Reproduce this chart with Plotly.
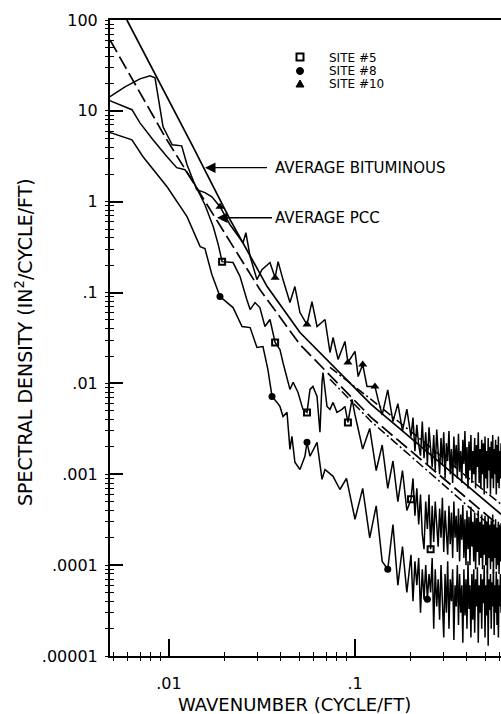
import math
import plotly.graph_objects as go

# ---------------- data ----------------
# average fitted lines
bit_k = [0.00594, 0.0133, 0.0213, 0.0337, 0.0506, 0.122, 0.610]
bit_v = [100, 4.23, 0.634, 0.1164, 0.0363, 0.00588, 0.000363]
pcc_k = [0.00482, 0.00952, 0.0205, 0.0308, 0.0506, 0.122, 0.610]
pcc_v = [60.2, 5.18, 0.412, 0.108, 0.0268, 0.00423, 0.000262]
dd1_k = [0.0734, 0.122, 0.610]
dd1_v = [0.0150, 0.00667, 0.000468]
dd2_k = [0.0734, 0.122, 0.610]
dd2_v = [0.0111, 0.00382, 0.000214]

# common high-wavenumber sampling of the three site spectra
k_hi = [0.205, 0.21, 0.215, 0.22, 0.225, 0.23, 0.235, 0.24, 0.245, 0.25,
        0.255, 0.26, 0.265, 0.27, 0.275, 0.28, 0.285, 0.29, 0.295, 0.30,
        0.305, 0.31, 0.315, 0.32, 0.325, 0.33, 0.335, 0.34, 0.345, 0.35,
        0.355, 0.36, 0.365, 0.37, 0.375, 0.38, 0.385, 0.39, 0.395, 0.40,
        0.405, 0.41, 0.415, 0.42, 0.425, 0.43, 0.435, 0.44, 0.445, 0.45,
        0.455, 0.46, 0.465, 0.47, 0.475, 0.48, 0.485, 0.49, 0.495, 0.50,
        0.505, 0.51, 0.515, 0.52, 0.525, 0.53, 0.535, 0.54, 0.545, 0.55,
        0.555, 0.56, 0.565, 0.57, 0.575, 0.58, 0.585, 0.59, 0.595, 0.60,
        0.605, 0.61]

# site 10 (triangles)
s10_k = [0.00470, 0.00580, 0.00698, 0.00791, 0.00841, 0.00929, 0.0104, 0.0117, 0.0125, 0.0141,
         0.0156, 0.0170, 0.0188, 0.0213, 0.0250, 0.0259, 0.0273, 0.0297, 0.0316, 0.0349,
         0.0372, 0.0386, 0.0410, 0.0447, 0.0475, 0.0506, 0.0552, 0.0587, 0.0625, 0.0690,
         0.0734, 0.0762, 0.0811, 0.0883, 0.0916, 0.100, 0.104, 0.110, 0.116, 0.128, 0.133,
         0.14, 0.15, 0.16, 0.17, 0.18, 0.19, 0.20]
s10_v = [13.9, 18.4, 22.5, 24.3, 23.1, 6.67, 4.23, 4.12, 2.55, 1.36,
         1.26, 1.13, 0.881, 0.558, 0.354, 0.456, 0.249, 0.139, 0.179, 0.214,
         0.146, 0.219, 0.139, 0.0776, 0.1164, 0.0602, 0.0445, 0.0796, 0.0423, 0.0505,
         0.0219, 0.0320, 0.0184, 0.0290, 0.0170, 0.0225, 0.0119, 0.0162, 0.00927, 0.00927, 0.00667,
         0.0045, 0.0085, 0.0038, 0.0060, 0.0030, 0.0052, 0.0026]
s10_hi = [0.0042, 0.0018, 0.0035, 0.0021, 0.0016, 0.0038, 0.0015, 0.0029, 0.0013, 0.0033,
          0.0019, 0.0012, 0.0027, 0.0011, 0.0031, 0.0016, 0.0010, 0.0025, 0.0013, 0.0029,
          0.0009, 0.0022, 0.0014, 0.0030, 0.0010, 0.0019, 0.0008, 0.0026, 0.0012, 0.0021,
          0.0009, 0.0028, 0.0011, 0.0018, 0.0008, 0.0024, 0.0013, 0.0030, 0.0009, 0.0020,
          0.0007, 0.0023, 0.0011, 0.0027, 0.0008, 0.0018, 0.0010, 0.0025, 0.0007, 0.0021,
          0.0012, 0.0029, 0.0008, 0.0019, 0.0007, 0.0024, 0.0010, 0.0022, 0.0006, 0.0026,
          0.0009, 0.0018, 0.0007, 0.0025, 0.0011, 0.0020, 0.0006, 0.0023, 0.0009, 0.0027,
          0.0007, 0.0019, 0.0010, 0.0024, 0.0006, 0.0021, 0.0008, 0.0026, 0.0007, 0.0018,
          0.0009, 0.0022]
s10_mk_k = [0.0188, 0.0372, 0.0552, 0.0916, 0.110, 0.128]
s10_mk_v = [0.881, 0.146, 0.0445, 0.0170, 0.0162, 0.00927]

# site 5 (squares)
s5_k = [0.00470, 0.00632, 0.00698, 0.00820, 0.00976, 0.0110, 0.0122, 0.0138, 0.0156, 0.0173,
        0.0184, 0.0193, 0.0221, 0.0241, 0.0262, 0.0273, 0.0290, 0.0308, 0.0328, 0.0349,
        0.0372, 0.0395, 0.0410, 0.0431, 0.0447, 0.0465, 0.0494, 0.0525, 0.0552, 0.0573,
        0.0594, 0.0625, 0.0648, 0.0665, 0.0673, 0.0707, 0.0734, 0.0762, 0.0800, 0.0851,
        0.0883, 0.0916, 0.0964,
        0.10, 0.11, 0.12, 0.13, 0.14, 0.15, 0.16, 0.17, 0.18, 0.19, 0.20]
s5_v = [13.2, 10.3, 7.38, 4.80, 3.13, 2.37, 2.25, 1.54, 0.927, 0.531,
        0.337, 0.219, 0.214, 0.150, 0.0838, 0.065, 0.0776, 0.0684, 0.0423, 0.0505,
        0.0283, 0.0236, 0.0170, 0.0119, 0.00859, 0.0103, 0.00796, 0.00518, 0.00480, 0.00859,
        0.00927, 0.00719, 0.00290, 0.0103, 0.0132, 0.00558, 0.00518, 0.00618, 0.00480, 0.00518,
        0.00558, 0.00372, 0.00667,
        0.0045, 0.0019, 0.0032, 0.0011, 0.0021, 0.0007, 0.0014, 0.0005, 0.0011, 0.0004, 0.00053]
s5_hi = [0.0009, 0.00035, 0.0007, 0.00028, 0.0006, 0.00022, 0.00015, 0.0005, 0.00025, 0.0006,
         0.00015, 0.00045, 0.00018, 0.0005, 0.00026, 0.00016, 0.00042, 0.0002, 0.00055, 0.00014,
         0.0004, 0.00022, 0.00013, 0.00045, 0.00017, 0.00038, 0.00012, 0.0005, 0.0002, 0.00035,
         0.00014, 0.00042, 0.00011, 0.00036, 0.00019, 0.00046, 0.00012, 0.00032, 0.0001, 0.0004,
         0.00015, 0.00034, 0.0001, 0.00044, 0.00016, 0.0003, 0.00011, 0.00038, 0.00009, 0.00033,
         0.00014, 0.0004, 0.0001, 0.0003, 0.00012, 0.00036, 0.00009, 0.00028, 0.00013, 0.00035,
         0.0001, 0.0003, 0.00008, 0.00034, 0.00012, 0.00027, 0.00009, 0.00031, 0.00011, 0.00036,
         0.00008, 0.00028, 0.00012, 0.00032, 0.00009, 0.00026, 0.0001, 0.0003, 0.00008, 0.00027,
         0.00011, 0.00029]
s5_mk_k = [0.0193, 0.0372, 0.0552, 0.0916, 0.20, 0.255]
s5_mk_v = [0.219, 0.0283, 0.00480, 0.00372, 0.00053, 0.00015]

# site 8 (circles)
s8_k = [0.00470, 0.00632, 0.00725, 0.00976, 0.0125, 0.0147, 0.0156, 0.0170, 0.0188, 0.0221,
        0.0247, 0.0273, 0.0297, 0.0320, 0.0340, 0.0358, 0.0381, 0.0395, 0.0410, 0.0431,
        0.0447, 0.0458, 0.0475, 0.0506, 0.0538, 0.0552, 0.0573, 0.0625, 0.0665, 0.0690,
        0.0762, 0.0830,
        0.09, 0.10, 0.11, 0.12, 0.13, 0.14, 0.15, 0.16, 0.17, 0.18, 0.19, 0.20]
s8_v = [5.87, 4.80, 3.13, 1.46, 0.684, 0.320, 0.305, 0.158, 0.0904, 0.0684,
        0.0423, 0.0412, 0.0249, 0.0255, 0.0143, 0.00719, 0.00618, 0.00558, 0.00433, 0.00480,
        0.00188, 0.00262, 0.00136, 0.00113, 0.00158, 0.00225, 0.00158, 0.00225, 0.00088, 0.00113,
        0.00095, 0.00068,
        0.0009, 0.00032, 0.0007, 0.00020, 0.00045, 0.00011, 0.00009, 0.00028, 0.00006, 0.00016, 0.00005, 0.00013]
s8_hi = [0.00004, 0.00011, 0.00006, 0.00012, 0.00003, 0.00009, 0.000042, 0.0001, 0.000042, 0.00008,
         0.00005, 0.00012, 0.00002, 0.00009, 0.000035, 0.00007, 0.000025, 0.0001, 0.00004, 0.000016,
         0.00008, 0.00003, 0.00011, 0.00002, 0.00007, 0.00004, 0.00009, 0.000015, 0.00006, 0.000035,
         0.0001, 0.000022, 0.00008, 0.00003, 0.00006, 0.000014, 0.00009, 0.000028, 0.00007, 0.00002,
         0.00011, 0.000033, 0.00006, 0.000016, 0.00008, 0.000025, 0.00009, 0.000018, 0.00007, 0.000035,
         0.000095, 0.000014, 0.00006, 0.00003, 0.00008, 0.00002, 0.00007, 0.000038, 0.0001, 0.000016,
         0.00006, 0.000028, 0.00009, 0.000013, 0.00007, 0.000032, 0.00008, 0.00002, 0.000065, 0.000035,
         0.00009, 0.000017, 0.00006, 0.00003, 0.000085, 0.000022, 0.00007, 0.000016, 0.00006, 0.000035,
         0.00008, 0.00003]
s8_mk_k = [0.0188, 0.0358, 0.0552, 0.15, 0.245]
s8_mk_v = [0.0904, 0.00719, 0.00225, 0.00009, 0.000042]

y_tickvals = [1e-5, 1e-4, 1e-3, 1e-2, 1e-1, 1, 10, 100]
y_ticktext = [".00001", ".0001", ".001", ".01", ".1", "1", "10", "100"]
x_tickvals = [0.01, 0.1]
x_ticktext = [".01", ".1"]
site_names = ["SITE #5", "SITE #8", "SITE #10"]

# ---------------- figure ----------------
FONT = "DejaVu Sans"
W, H = 501, 714
L, R, T, B = 110, 0, 20, 58
PW, PH = W - L - R, H - T - B

def px(xp):
    return (xp - L) / PW

def py(yp):
    return (H - B - yp) / PH

fig = go.Figure()

def add_line(k, v, dash="solid", w=1.6):
    fig.add_trace(go.Scatter(x=k, y=v, mode="lines", showlegend=False, hoverinfo="skip",
                             line=dict(color="black", width=w, dash=dash)))

add_line(s10_k + k_hi, s10_v + s10_hi, w=1.5)
add_line(s5_k + k_hi, s5_v + s5_hi, w=1.5)
add_line(s8_k + k_hi, s8_v + s8_hi, w=1.5)
add_line(bit_k, bit_v, w=1.7)
add_line(pcc_k, pcc_v, dash="14px,5px", w=1.7)
add_line(dd1_k, dd1_v, dash="9px,3px,2px,3px", w=1.5)
add_line(dd2_k, dd2_v, dash="9px,3px,2px,3px", w=1.5)

fig.add_trace(go.Scatter(x=s5_mk_k, y=s5_mk_v, mode="markers", showlegend=False, hoverinfo="skip",
                         marker=dict(symbol="square-open", size=6, color="black", line=dict(width=2, color="black"))))
fig.add_trace(go.Scatter(x=s8_mk_k, y=s8_mk_v, mode="markers", showlegend=False, hoverinfo="skip",
                         marker=dict(symbol="circle", size=7, color="black")))
fig.add_trace(go.Scatter(x=s10_mk_k, y=s10_mk_v, mode="markers", showlegend=False, hoverinfo="skip",
                         marker=dict(symbol="triangle-up", size=8, color="black")))
# dummy trace for overlay axes (outer half of crossing ticks)
fig.add_trace(go.Scatter(x=[None], y=[None], xaxis="x2", yaxis="y2", showlegend=False, hoverinfo="skip"))

x_minor = [m * 10 ** e for e in (-3, -2, -1) for m in range(2, 10)]
y_minor = [m * 10 ** e for e in range(-5, 2) for m in range(2, 10)]
xr = [-2 - (169 - L) / 186, -2 + (W - 169) / 186]
yr = [-5, 2]

fig.update_layout(
    width=W, height=H, margin=dict(l=L, r=R, t=T, b=B),
    plot_bgcolor="white", paper_bgcolor="white",
    font=dict(family=FONT, color="black"),
    xaxis=dict(type="log", range=xr, showgrid=False, zeroline=False,
               showline=True, linecolor="black", linewidth=2, mirror=True,
               ticks="inside", ticklen=17, tickwidth=1.5, tickcolor="black",
               tickvals=x_tickvals, ticktext=x_ticktext, tickfont=dict(size=16),
               ticklabelstandoff=12,
               minor=dict(ticks="inside", ticklen=4, tickwidth=1.2, tickcolor="black", tickvals=x_minor, showgrid=False)),
    yaxis=dict(type="log", range=yr, showgrid=False, zeroline=False,
               showline=True, linecolor="black", linewidth=2,
               ticks="inside", ticklen=13, tickwidth=1.5, tickcolor="black",
               tickvals=y_tickvals, ticktext=y_ticktext, tickfont=dict(size=16),
               ticklabelstandoff=7,
               minor=dict(ticks="inside", ticklen=4, tickwidth=1.2, tickcolor="black", tickvals=y_minor, showgrid=False)),
    xaxis2=dict(type="log", range=xr, overlaying="x", anchor="y", side="bottom", showgrid=False, zeroline=False,
                showline=False, ticks="outside", ticklen=4, tickwidth=1.2, tickcolor="black",
                tickvals=x_minor, showticklabels=False),
    yaxis2=dict(type="log", range=yr, overlaying="y", anchor="x", side="left", showgrid=False, zeroline=False,
                showline=False, ticks="outside", ticklen=4, tickwidth=1.2, tickcolor="black",
                tickvals=y_minor + y_tickvals, showticklabels=False),
)

ann = []
ann.append(dict(xref="paper", yref="paper", x=px(294), y=py(704), text="WAVENUMBER (CYCLE/FT)",
                showarrow=False, xanchor="center", yanchor="middle", font=dict(size=18)))
ann.append(dict(xref="paper", yref="paper", x=px(24), y=py(342), text="SPECTRAL DENSITY (IN<sup>2</sup>/CYCLE/FT)",
                showarrow=False, textangle=-90, xanchor="center", yanchor="middle", font=dict(size=19)))
# arrows
ann.append(dict(x=math.log10(0.01561), y=math.log10(2.37), xref="x", yref="y", text="AVERAGE BITUMINOUS",
                showarrow=True, ax=62, ay=0, xanchor="left", yanchor="middle", borderpad=7,
                arrowhead=2, arrowsize=1.5, arrowwidth=1.4, arrowcolor="black", font=dict(size=15)))
ann.append(dict(x=math.log10(0.01811), y=math.log10(0.667), xref="x", yref="y", text="AVERAGE PCC",
                showarrow=True, ax=55, ay=0, xanchor="left", yanchor="middle", borderpad=2,
                arrowhead=2, arrowsize=1.5, arrowwidth=1.4, arrowcolor="black", font=dict(size=15)))
# legend text
for i, name in enumerate(site_names):
    ann.append(dict(xref="paper", yref="paper", x=px(327), y=py(58 + 13 * i), text=name,
                    showarrow=False, xanchor="left", yanchor="middle", font=dict(size=12)))
fig.update_layout(annotations=ann)

# legend symbols
shapes = []
shapes.append(dict(type="rect", xref="paper", yref="paper", x0=px(296.5), x1=px(303.5), y0=py(60.5), y1=py(53.5),
                   line=dict(color="black", width=2), fillcolor="white"))
shapes.append(dict(type="circle", xref="paper", yref="paper", x0=px(296.5), x1=px(303.5), y0=py(74.5), y1=py(67.5),
                   line=dict(color="black", width=1), fillcolor="black"))
tri = "M {:.5f},{:.5f} L {:.5f},{:.5f} L {:.5f},{:.5f} Z".format(px(296), py(87), px(304), py(87), px(300), py(80))
shapes.append(dict(type="path", xref="paper", yref="paper", path=tri,
                   line=dict(color="black", width=1), fillcolor="black"))
fig.update_layout(shapes=shapes)

fig.write_html("out.html", config={"displayModeBar": False},
               post_script="document.body.style.margin='0px';document.body.style.overflow='hidden';")
